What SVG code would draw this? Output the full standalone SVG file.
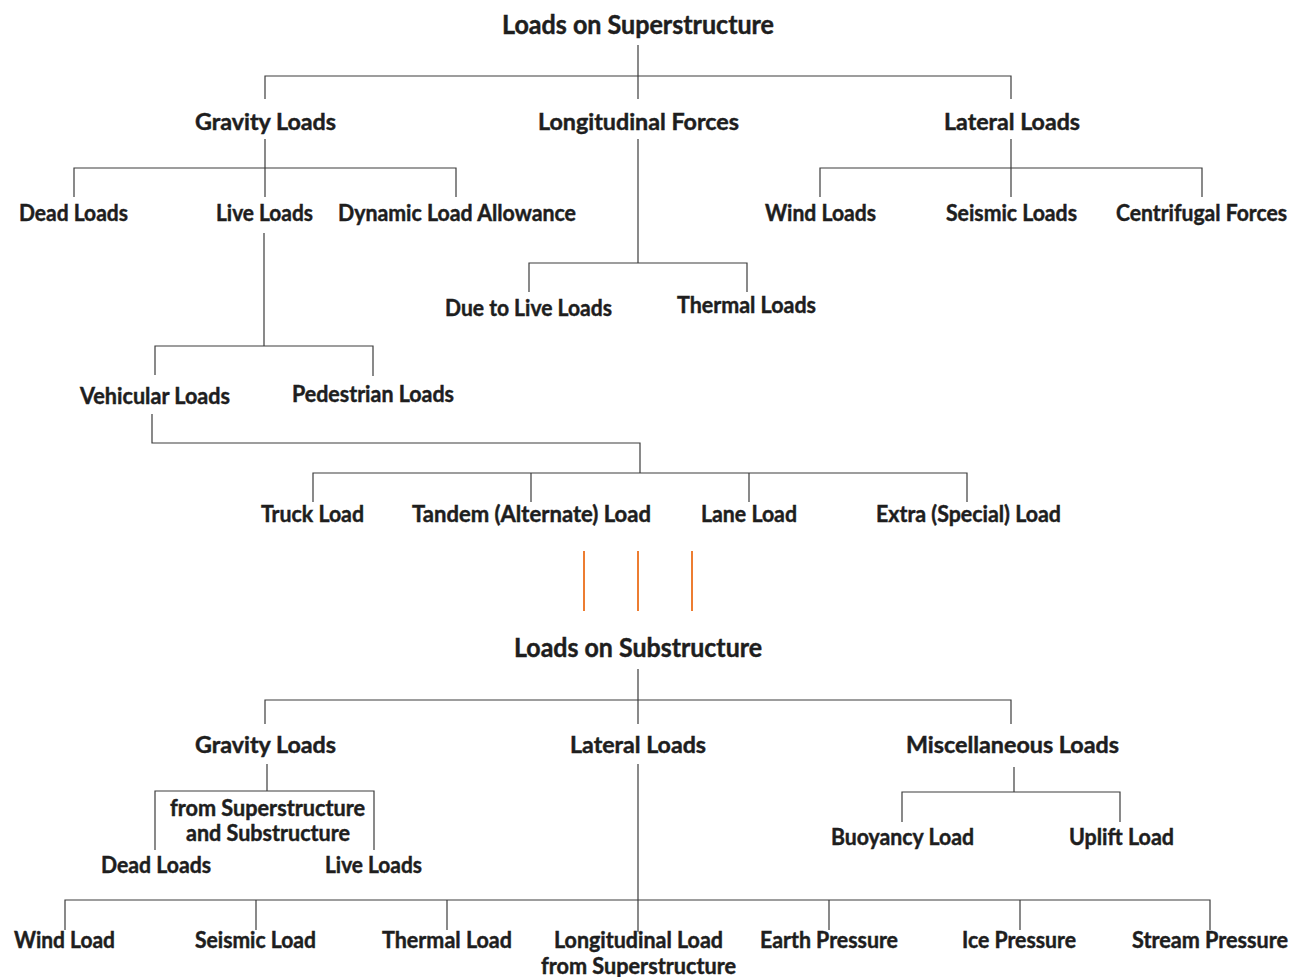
<svg xmlns="http://www.w3.org/2000/svg" width="1301" height="977" viewBox="0 0 1301 977">
<style>
text{font-family:"Lato","Liberation Sans",sans-serif;font-weight:700;fill:#1e1e1e;stroke:#1e1e1e;stroke-width:0.45;}
.n{font-size:22px;}
.t{font-size:26px;}
.c path{fill:none;stroke:#3c3c3c;stroke-width:1.2;}
.o path{fill:none;stroke:#ED7D31;stroke-width:2;}
</style>
<rect width="1301" height="977" fill="#fff"/>
<g class="c" id="connectors">
<path d="M638 45V99M265 99V76H1011V99"/>
<path d="M265 139V197M74 197V168H456V197"/>
<path d="M638 139V263M529 292V263H747V292"/>
<path d="M1011 139V197M820 197V168H1202V197"/>
<path d="M264 233V346M155 375V346H373V376"/>
<path d="M152 414V443H640V473M313 502V473H967V502M531 473V502M749 473V502"/>
<path d="M638 669V724M265 724V700H1011V724"/>
<path d="M267 764V791M155 850V791H374V850"/>
<path d="M638 764V932M65 930V900H1210V930M256 900V930M447 900V930M829 900V930M1020 900V930"/>
<path d="M1014 767V792M902 822V792H1120V822"/>
</g>
<g class="o" id="separator">
<path d="M584 551V611M638 551V611M692 551V611"/>
</g>
<g id="super"><text class="t" x="502" y="34" textLength="272" lengthAdjust="spacingAndGlyphs">Loads on Superstructure</text></g>
<g id="gravity1"><text class="n" x="195" y="130" textLength="141" lengthAdjust="spacingAndGlyphs">Gravity Loads</text></g>
<g id="longitudinal"><text class="n" x="538" y="130" textLength="201" lengthAdjust="spacingAndGlyphs">Longitudinal Forces</text></g>
<g id="lateral1"><text class="n" x="944" y="130" textLength="136" lengthAdjust="spacingAndGlyphs">Lateral Loads</text></g>
<g id="dead1"><text class="n" x="19" y="221" textLength="109" lengthAdjust="spacingAndGlyphs">Dead Loads</text></g>
<g id="live1"><text class="n" x="216" y="221" textLength="97" lengthAdjust="spacingAndGlyphs">Live Loads</text></g>
<g id="dynamic"><text class="n" x="338" y="221" textLength="238" lengthAdjust="spacingAndGlyphs">Dynamic Load Allowance</text></g>
<g id="wind1"><text class="n" x="765" y="221" textLength="111" lengthAdjust="spacingAndGlyphs">Wind Loads</text></g>
<g id="seismic1"><text class="n" x="946" y="221" textLength="131" lengthAdjust="spacingAndGlyphs">Seismic Loads</text></g>
<g id="centrifugal"><text class="n" x="1116" y="221" textLength="171" lengthAdjust="spacingAndGlyphs">Centrifugal Forces</text></g>
<g id="duelive"><text class="n" x="445" y="316" textLength="167" lengthAdjust="spacingAndGlyphs">Due to Live Loads</text></g>
<g id="thermal1"><text class="n" x="677" y="313" textLength="139" lengthAdjust="spacingAndGlyphs">Thermal Loads</text></g>
<g id="vehicular"><text class="n" x="80" y="404" textLength="150" lengthAdjust="spacingAndGlyphs">Vehicular Loads</text></g>
<g id="pedestrian"><text class="n" x="292" y="402" textLength="162" lengthAdjust="spacingAndGlyphs">Pedestrian Loads</text></g>
<g id="truck"><text class="n" x="261" y="522" textLength="103" lengthAdjust="spacingAndGlyphs">Truck Load</text></g>
<g id="tandem"><text class="n" x="412" y="522" textLength="239" lengthAdjust="spacingAndGlyphs">Tandem (Alternate) Load</text></g>
<g id="lane"><text class="n" x="701" y="522" textLength="96" lengthAdjust="spacingAndGlyphs">Lane Load</text></g>
<g id="extra"><text class="n" x="876" y="522" textLength="185" lengthAdjust="spacingAndGlyphs">Extra (Special) Load</text></g>
<g id="sub"><text class="t" x="514" y="657" textLength="248" lengthAdjust="spacingAndGlyphs">Loads on Substructure</text></g>
<g id="gravity2"><text class="n" x="195" y="753" textLength="141" lengthAdjust="spacingAndGlyphs">Gravity Loads</text></g>
<g id="lateral2"><text class="n" x="570" y="753" textLength="136" lengthAdjust="spacingAndGlyphs">Lateral Loads</text></g>
<g id="misc"><text class="n" x="906" y="753" textLength="213" lengthAdjust="spacingAndGlyphs">Miscellaneous Loads</text></g>
<g id="fromsuper"><text class="n" x="170" y="816" textLength="195" lengthAdjust="spacingAndGlyphs">from Superstructure</text><text class="n" x="186" y="841" textLength="164" lengthAdjust="spacingAndGlyphs">and Substructure</text></g>
<g id="dead2"><text class="n" x="101" y="873" textLength="110" lengthAdjust="spacingAndGlyphs">Dead Loads</text></g>
<g id="live2"><text class="n" x="325" y="873" textLength="97" lengthAdjust="spacingAndGlyphs">Live Loads</text></g>
<g id="buoyancy"><text class="n" x="831" y="845" textLength="143" lengthAdjust="spacingAndGlyphs">Buoyancy Load</text></g>
<g id="uplift"><text class="n" x="1069" y="845" textLength="105" lengthAdjust="spacingAndGlyphs">Uplift Load</text></g>
<g id="wind2"><text class="n" x="14" y="948" textLength="101" lengthAdjust="spacingAndGlyphs">Wind Load</text></g>
<g id="seismic2"><text class="n" x="195" y="948" textLength="121" lengthAdjust="spacingAndGlyphs">Seismic Load</text></g>
<g id="thermal2"><text class="n" x="382" y="948" textLength="130" lengthAdjust="spacingAndGlyphs">Thermal Load</text></g>
<g id="longload"><text class="n" x="554" y="948" textLength="169" lengthAdjust="spacingAndGlyphs">Longitudinal Load</text><text class="n" x="541" y="974" textLength="195" lengthAdjust="spacingAndGlyphs">from Superstructure</text></g>
<g id="earth"><text class="n" x="760" y="948" textLength="138" lengthAdjust="spacingAndGlyphs">Earth Pressure</text></g>
<g id="ice"><text class="n" x="962" y="948" textLength="114" lengthAdjust="spacingAndGlyphs">Ice Pressure</text></g>
<g id="stream"><text class="n" x="1132" y="948" textLength="156" lengthAdjust="spacingAndGlyphs">Stream Pressure</text></g>
</svg>
